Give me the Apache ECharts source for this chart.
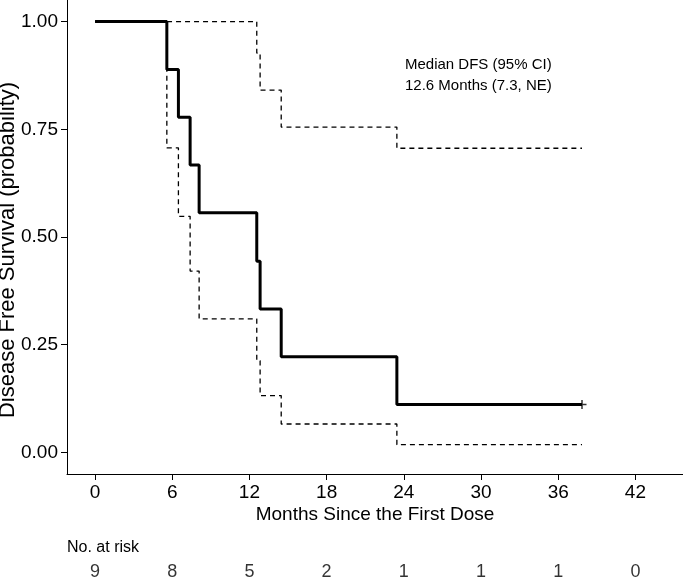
<!DOCTYPE html>
<html>
<head>
<meta charset="utf-8">
<script src="https://cdn.jsdelivr.net/npm/echarts@6/dist/echarts.min.js"></script>
<style>
  html, body { margin: 0; padding: 0; background: #fff; }
  #chart { width: 683px; height: 578px; }
</style>
</head>
<body>
<div id="chart"></div>
<script>
// KM estimate (months, probability)
var kmTimes = [0, 5.58, 6.48, 7.39, 8.09, 12.57, 12.83, 14.47, 23.46, 37.85];
var kmSurv  = [1, 0.889, 0.778, 0.667, 0.556, 0.444, 0.333, 0.222, 0.111, 0.111];
// 95% CI bounds at the same times
var ciUpper = [1, 1, 1, 1, 1, 0.927, 0.841, 0.755, 0.706, 0.706];
var ciLower = [1, 0.707, 0.548, 0.421, 0.310, 0.213, 0.132, 0.066, 0.018, 0.018];
// censored observations
var censorTimes = [37.85];
var censorSurv  = [0.111];
// risk table
var riskTimes = [0, 6, 12, 18, 24, 30, 36, 42];
var riskCounts = [9, 8, 5, 2, 1, 1, 1, 0];
var xTicks = [0, 6, 12, 18, 24, 30, 36, 42];
var yTicks = [0, 0.25, 0.5, 0.75, 1];

function pairs(xs, ys) {
    return xs.map(function (x, i) { return [x, ys[i]]; });
}

var font = "'Liberation Sans', Arial, sans-serif";
var chart = echarts.init(document.getElementById('chart'));

var option = {
    animation: false,
    backgroundColor: '#fff',
    textStyle: { fontFamily: font },
    title: [
        {
            text: 'Median DFS (95% CI)\n12.6 Months (7.3, NE)',
            left: 405, top: 54, padding: 0,
            textStyle: { fontFamily: font, fontSize: 15, fontWeight: 'normal', color: '#000', lineHeight: 21.5 }
        },
        {
            text: 'No. at risk',
            left: 67, top: 539, padding: 0,
            textStyle: { fontFamily: font, fontSize: 16, fontWeight: 'normal', color: '#000', lineHeight: 18 }
        }
    ],
    grid: [
        { left: 67, right: 0, top: 0, bottom: 104, containLabel: false, outerBoundsMode: 'none' },
        { left: 67, right: 0, top: 562, height: 20, containLabel: false, outerBoundsMode: 'none' }
    ],
    xAxis: [
        {
            type: 'value', gridIndex: 0, min: -2.18, max: 45.7,
            name: 'Months Since the First Dose', nameLocation: 'middle', nameGap: 31,
            nameMoveOverlap: false,
            nameTextStyle: { fontFamily: font, fontSize: 19, color: '#000' },
            axisLine: { show: true, onZero: false, lineStyle: { color: '#000', width: 1 } },
            axisTick: { show: true, length: 6, customValues: xTicks, lineStyle: { color: '#000' } },
            axisLabel: { customValues: xTicks, margin: 9, fontFamily: font, fontSize: 19, color: '#000' },
            splitLine: { show: false }
        },
        {
            type: 'value', gridIndex: 1, min: -2.18, max: 45.7, show: false
        }
    ],
    yAxis: [
        {
            type: 'value', gridIndex: 0, min: -0.05, max: 1.05,
            name: 'Disease Free Survival (probability)', nameLocation: 'middle', nameGap: 48,
            nameMoveOverlap: false,
            nameTextStyle: { fontFamily: font, fontSize: 22, color: '#000', padding: [0, 26, 0, 0] },
            axisLine: { show: true, onZero: false, lineStyle: { color: '#000', width: 1 } },
            axisTick: { show: true, length: 6, customValues: yTicks, lineStyle: { color: '#000' } },
            axisLabel: {
                customValues: yTicks, margin: 9, fontFamily: font, fontSize: 19, color: '#000',
                formatter: function (v) { return v.toFixed(2); }
            },
            splitLine: { show: false }
        },
        {
            type: 'value', gridIndex: 1, min: 0, max: 1, show: false
        }
    ],
    series: [
        {
            type: 'line', step: 'end', data: pairs(kmTimes, ciUpper),
            symbol: 'none', z: 2,
            lineStyle: { color: '#000', width: 1.3, type: [5, 4] }
        },
        {
            type: 'line', step: 'end', data: pairs(kmTimes, ciLower),
            symbol: 'none', z: 2,
            lineStyle: { color: '#000', width: 1.3, type: [5, 4] }
        },
        {
            type: 'line', step: 'end', data: pairs(kmTimes, kmSurv),
            symbol: 'none', z: 3,
            lineStyle: { color: '#000', width: 3 }
        },
        {
            type: 'scatter', data: pairs(censorTimes, censorSurv), z: 4,
            symbol: 'path://M0,5L10,5M5,0L5,10', symbolSize: 9,
            itemStyle: { color: 'none', borderColor: '#000', borderWidth: 1.5 }
        },
        {
            type: 'scatter', xAxisIndex: 1, yAxisIndex: 1,
            data: riskTimes.map(function (t, i) { return [t, 0.5, riskCounts[i]]; }),
            symbolSize: 0,
            label: {
                show: true, position: 'inside', fontFamily: font, fontSize: 18, color: '#000',
                formatter: function (p) { return p.value[2]; }
            }
        }
    ]
};

option && chart.setOption(option);
</script>
</body>
</html>
